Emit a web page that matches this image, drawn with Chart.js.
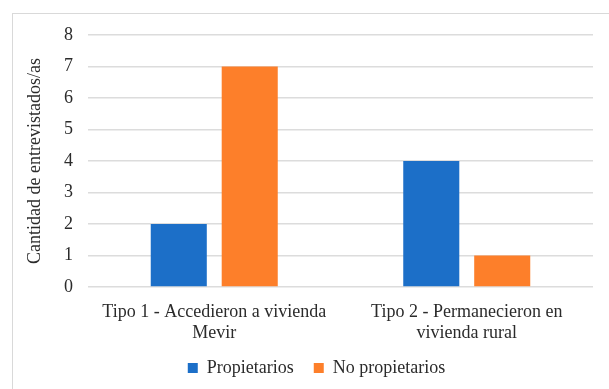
<!DOCTYPE html>
<html>
<head>
<meta charset="utf-8">
<script src="https://cdn.jsdelivr.net/npm/chart.js@4.4.1/dist/chart.umd.min.js"></script>
<style>
  html, body { margin: 0; padding: 0; background: #ffffff; }
  #wrap { width: 609px; height: 389px; position: relative; }
</style>
</head>
<body>
<div id="wrap"><canvas id="c" width="609" height="389"></canvas></div>
<script>
// Categories (multi-line labels) and series values
const categories = [
  ['Tipo 1 - Accedieron a vivienda', 'Mevir'],
  ['Tipo 2 - Permanecieron en', 'vivienda rural']
];
const propietarios = [2, 4];
const noPropietarios = [7, 1];
const yTicks = [0, 1, 2, 3, 4, 5, 6, 7, 8];
const yTitle = 'Cantidad de entrevistados/as';

const FONT = '"Liberation Serif", "Times New Roman", serif';
const TEXT = '#2b2b2b';

// Thin frame around the chart block
const framePlugin = {
  id: 'frame',
  beforeDraw(chart) {
    const ctx = chart.ctx;
    ctx.save();
    ctx.strokeStyle = '#d9d9d9';
    ctx.lineWidth = 1;
    ctx.strokeRect(12.5, 13.5, 700, 500);
    ctx.restore();
  }
};

// Nudge the legend a little to the right of the canvas centre
const legendShift = {
  id: 'legendShift',
  afterLayout(chart) {
    if (chart.legend) {
      chart.legend.left += 10;
      chart.legend.right += 10;
    }
  }
};

new Chart(document.getElementById('c'), {
  type: 'bar',
  data: {
    labels: categories,
    datasets: [
      { label: 'Propietarios', data: propietarios, backgroundColor: '#1c6fc8',
        categoryPercentage: 0.562, barPercentage: 0.79 },
      { label: 'No propietarios', data: noPropietarios, backgroundColor: '#fd7f2a',
        categoryPercentage: 0.562, barPercentage: 0.79 }
    ]
  },
  options: {
    responsive: false,
    animation: false,
    layout: { padding: { left: 20, top: 35, right: 16, bottom: 2 } },
    plugins: {
      tooltip: { enabled: false },
      legend: {
        position: 'bottom',
        labels: {
          font: { family: FONT, size: 18 },
          color: TEXT,
          boxWidth: 10,
          boxHeight: 10,
          padding: 20
        }
      }
    },
    scales: {
      x: {
        afterFit(scale) { scale.height = 52; },
        grid: { display: false },
        border: { display: false },
        ticks: {
          font: { family: FONT, size: 18, lineHeight: 1.17 },
          color: TEXT,
          padding: 7,
          maxRotation: 0,
          autoSkip: false
        }
      },
      y: {
        min: 0,
        max: 8,
        afterBuildTicks(scale) { scale.ticks = yTicks.map(v => ({ value: v })); },
        afterFit(scale) { scale.width = 68; },
        grid: { color: '#dcdcdc', lineWidth: 1.5, drawTicks: false },
        border: { display: false },
        ticks: {
          font: { family: FONT, size: 18 },
          color: TEXT,
          padding: 15
        },
        title: {
          display: true,
          text: yTitle,
          font: { family: FONT, size: 18 },
          color: TEXT,
          padding: { top: 4, bottom: 0 }
        }
      }
    }
  },
  plugins: [framePlugin, legendShift]
});
</script>
</body>
</html>
